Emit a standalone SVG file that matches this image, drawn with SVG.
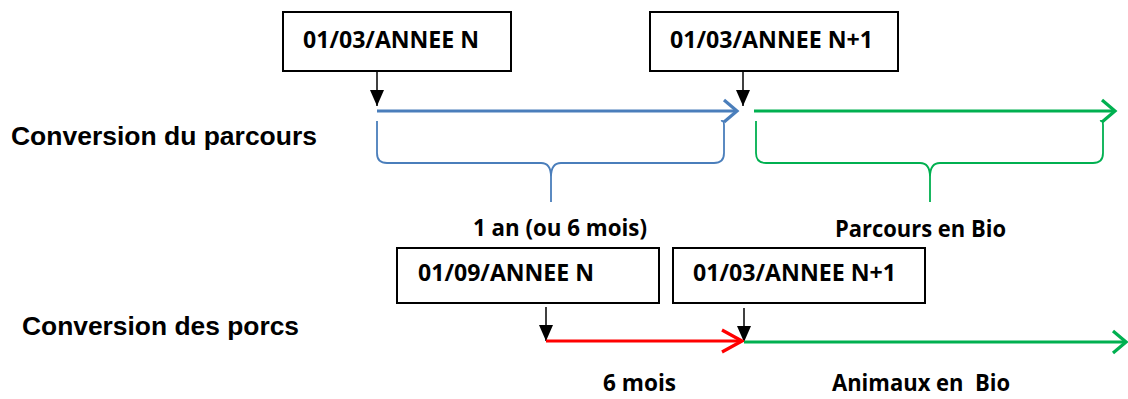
<svg xmlns="http://www.w3.org/2000/svg" width="1128" height="399" viewBox="0 0 1128 399">
<style>
.box{fill:#fff;stroke:#000;stroke-width:2}
.bt{font-family:"Open Sans","Noto Sans",sans-serif;font-weight:bold;font-size:24px;fill:#000}
.lt{font-family:"Liberation Sans",Arial,sans-serif;font-weight:bold;font-size:26.5px;fill:#000}
.blk{stroke:#000;stroke-width:1.5;fill:none}
.tl{stroke-width:3.2;fill:none}
.br{stroke-width:1.8;fill:none}
</style>
<defs>
<marker id="ah" markerUnits="userSpaceOnUse" viewBox="0 0 16 14" refX="16" refY="7" markerWidth="16" markerHeight="14" orient="auto"><path d="M0,0 L16,7 L0,14 z" fill="#000"/></marker>
<marker id="cb" markerUnits="userSpaceOnUse" viewBox="-18 -14 21 28" refX="0" refY="0" markerWidth="21" markerHeight="28" orient="auto"><path d="M-13,-11 L0,0 L-13,11" fill="none" stroke="#4A7EBB" stroke-width="3.2"/></marker>
<marker id="cg" markerUnits="userSpaceOnUse" viewBox="-18 -14 21 28" refX="0" refY="0" markerWidth="21" markerHeight="28" orient="auto"><path d="M-13,-11 L0,0 L-13,11" fill="none" stroke="#00B050" stroke-width="3.2"/></marker>
<marker id="cr" markerUnits="userSpaceOnUse" viewBox="-24 -14 27 28" refX="0" refY="0" markerWidth="27" markerHeight="28" orient="auto"><path d="M-20,-11 L0,0 L-20,11" fill="none" stroke="#FF0000" stroke-width="3.2"/></marker>
</defs>

<text class="lt" x="11" y="145" textLength="306" lengthAdjust="spacingAndGlyphs">Conversion du parcours</text>
<text class="lt" x="22" y="335" textLength="277" lengthAdjust="spacingAndGlyphs">Conversion des porcs</text>

<g id="n1"><rect class="box" x="283" y="12" width="228" height="59"/><text class="bt" x="303" y="48" textLength="176" lengthAdjust="spacingAndGlyphs">01/03/ANNEE N</text></g>
<g id="n2"><rect class="box" x="650" y="12" width="248" height="59"/><text class="bt" x="670" y="48" textLength="203" lengthAdjust="spacingAndGlyphs">01/03/ANNEE N+1</text></g>
<g id="n3"><rect class="box" x="397" y="248" width="262" height="55"/><text class="bt" x="418" y="281" textLength="176" lengthAdjust="spacingAndGlyphs">01/09/ANNEE N</text></g>
<g id="n4"><rect class="box" x="673" y="248" width="252" height="55"/><text class="bt" x="693" y="281" textLength="203" lengthAdjust="spacingAndGlyphs">01/03/ANNEE N+1</text></g>

<g id="connectors">
<line class="blk" x1="377" y1="71" x2="377" y2="106" marker-end="url(#ah)"/>
<line class="blk" x1="743" y1="71" x2="743" y2="106" marker-end="url(#ah)"/>
<line class="blk" x1="546" y1="307" x2="546" y2="341" marker-end="url(#ah)"/>
<line class="blk" x1="744" y1="308" x2="744" y2="342" marker-end="url(#ah)"/>
<line class="tl" stroke="#4A7EBB" x1="377" y1="111" x2="737" y2="111" marker-end="url(#cb)"/>
<line class="tl" stroke="#00B050" x1="754" y1="111" x2="1115" y2="111" marker-end="url(#cg)"/>
<line class="tl" stroke="#FF0000" x1="546" y1="341" x2="742" y2="341" marker-end="url(#cr)"/>
<line class="tl" stroke="#00B050" x1="744" y1="342" x2="1126" y2="342" marker-end="url(#cg)"/>
</g>

<g id="brace-blue"><path class="br" stroke="#4A7EBB" d="M377,121 L377,153 Q377,163 387,163 L541,163 Q551,163 551,177 L551,202 M551,177 Q551,163 561,163 L714,163 Q724,163 724,153 L724,125 Q724,120 721,121"/></g>
<g id="brace-green"><path class="br" stroke="#00B050" d="M756,121 L756,153 Q756,163 766,163 L920,163 Q930,163 930,177 L930,202 M930,177 Q930,163 940,163 L1093,163 Q1103,163 1103,153 L1103,125 Q1103,120 1100,121"/></g>

<text class="bt" x="473" y="236" textLength="174" lengthAdjust="spacingAndGlyphs">1 an (ou 6 mois)</text>
<text class="bt" x="835" y="237" textLength="171" lengthAdjust="spacingAndGlyphs">Parcours en Bio</text>
<text class="bt" x="603" y="391" textLength="73" lengthAdjust="spacingAndGlyphs">6 mois</text>
<text class="bt" x="832" y="391" textLength="178" lengthAdjust="spacingAndGlyphs" xml:space="preserve">Animaux en  Bio</text>
</svg>
